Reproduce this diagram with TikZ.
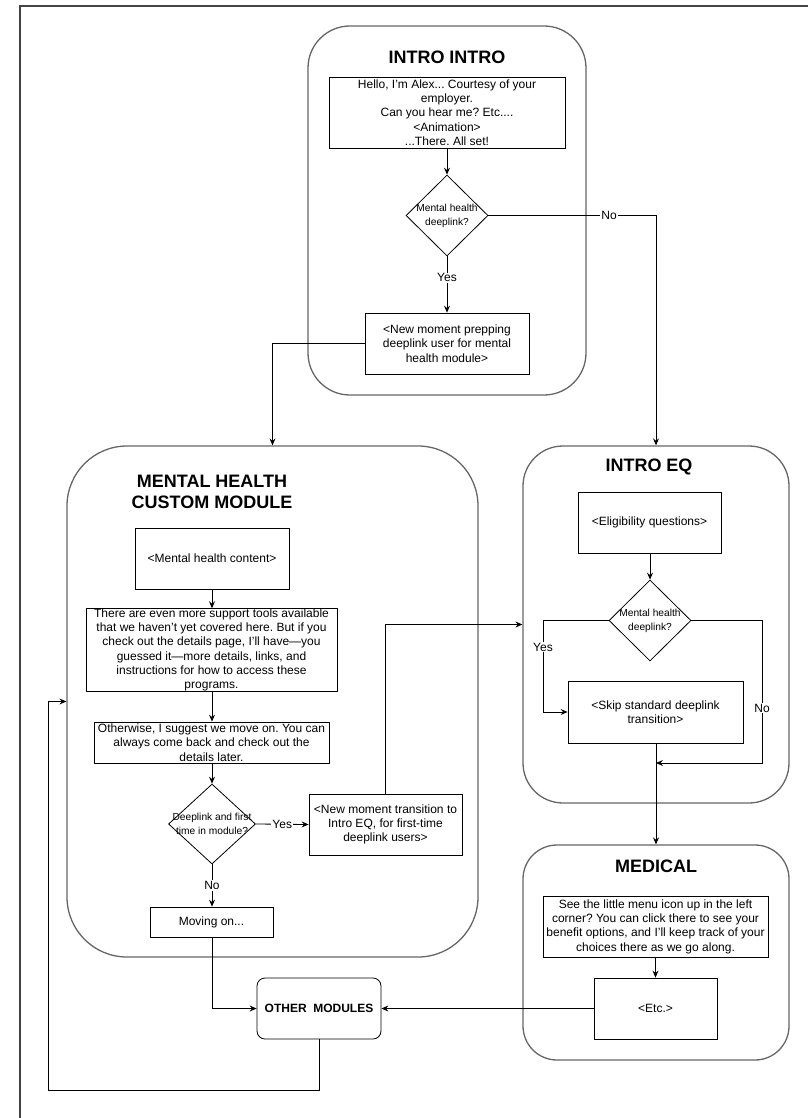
\documentclass[tikz,border=0pt]{standalone}
\usepackage{fontspec}
\setmainfont{Liberation Sans}
\usetikzlibrary{shapes.geometric,arrows.meta,calc}
\definecolor{framegray}{HTML}{444444}
\definecolor{contgray}{HTML}{666666}
\frenchspacing
\begin{document}
\begin{tikzpicture}[x=1pt,y=-1pt,
  txt/.style={font=\fontsize{12}{14.3}\selectfont, align=center},
  box/.style={draw=black, line width=0.8pt, rectangle, inner xsep=1pt, inner ysep=0pt, txt},
  cont/.style={draw=contgray, line width=1.3pt, rectangle, inner sep=0pt},
  ttl/.style={font=\fontsize{18}{20.5}\selectfont\bfseries, align=center},
  dia/.style={draw=black, line width=0.8pt, diamond, inner sep=0pt},
  dtxt/.style={font=\fontsize{10.2}{14}\selectfont, align=center, inner sep=0pt},
  arr/.style={line width=0.8pt, -{Stealth[length=7pt,width=6pt,inset=2.5pt]}},
  ln/.style={line width=0.8pt},
  lbl/.style={fill=white, inner sep=1pt, font=\fontsize{12}{14}\selectfont}
]
\useasboundingbox (0,0) rectangle (807,1118);
\draw[framegray, line width=2pt] (20,1119) -- (20,6) -- (808,6);

% containers
\node[cont, rounded corners=42pt, minimum width=278pt, minimum height=369pt] (intro) at (447,210.5) {};
\node[cont, rounded corners=60pt, minimum width=411pt, minimum height=511pt] (mh) at (272.5,701.5) {};
\node[cont, rounded corners=40pt, minimum width=266pt, minimum height=357pt] (eq) at (656,624.5) {};
\node[cont, rounded corners=34pt, minimum width=266pt, minimum height=215pt] (med) at (656,952.5) {};

% titles
\node[ttl] (tintro) at (447,57) {INTRO INTRO};
\node[ttl] (tmh) at (212,492) {MENTAL HEALTH\\CUSTOM MODULE};
\node[ttl] (teq) at (649,467) {INTRO EQ};
\node[ttl] (tmed) at (656,866) {MEDICAL};

% intro intro
\node[box, minimum width=236pt, minimum height=71pt] (b1) at (447,112.5)
  {Hello, I'm Alex... Courtesy of your\\employer.\\Can you hear me? Etc....\\<Animation>\\...There. All set!};
\node[dia, minimum width=82pt, minimum height=81pt] (d1) at (447,215.5) {};
\node[dtxt] (d1t) at (d1.center) {Mental health\\deeplink?};
\node[box, minimum width=164pt, minimum height=61pt] (b2) at (447,343.5)
  {<New moment prepping\\deeplink user for mental\\health module>};

% mental health module
\node[box, minimum width=154pt, minimum height=61pt] (bA) at (212,558.5) {<Mental health content>};
\node[box, minimum width=251pt, minimum height=82pt] (bB) at (211.5,650)
  {There are even more support tools available\\that we haven't yet covered here. But if you\\check out the details page, I'll have—you\\guessed it—more details, links, and\\instructions for how to access these\\programs.};
\node[box, minimum width=235pt, minimum height=41pt] (bC) at (211.5,742.5)
  {Otherwise, I suggest we move on. You can\\always come back and check out the\\details later.};
\node[dia, minimum width=87pt, minimum height=80pt] (d2) at (212,824) {};
\node[dtxt] (d2t) at (d2.center) {Deeplink and first\\time in module?};
\node[box, minimum width=153pt, minimum height=61pt] (bD) at (385.5,824.5)
  {<New moment transition to\\Intro EQ, for first-time\\deeplink users>};
\node[box, minimum width=123pt, minimum height=30pt] (bM) at (211.5,922) {Moving on...};

% other modules
\node[draw=black, line width=0.8pt, rounded corners=8pt, minimum width=124pt, minimum height=61pt, inner sep=0pt,
  font=\fontsize{12}{14}\selectfont\bfseries] (om) at (319,1008.5) {OTHER\ \ MODULES};

% intro eq
\node[box, minimum width=143pt, minimum height=61pt] (bE) at (649.5,522.5) {<Eligibility questions>};
\node[dia, minimum width=82pt, minimum height=81pt] (d3) at (650,620.5) {};
\node[dtxt] (d3t) at (d3.center) {Mental health\\deeplink?};
\node[box, minimum width=175pt, minimum height=62pt] (bF) at (655.5,712) {<Skip standard deeplink\\transition>};

% medical
\node[box, minimum width=225pt, minimum height=61pt] (bG) at (655.5,926.5)
  {See the little menu icon up in the left\\corner? You can click there to see your\\benefit options, and I'll keep track of your\\choices there as we go along.};
\node[box, minimum width=123pt, minimum height=61pt] (bH) at (655.5,1008.5) {<Etc.>};

% coordinates
\coordinate (loop) at (48,1090);
\coordinate (eqyes) at (543,712);
\coordinate (eqno) at (762,763);
\coordinate (merge) at (656,763);

% connectors
\draw[arr] (b1.south) -- (d1.north);
\draw[arr] (d1.south) -- node[lbl, pos=0.38] {Yes} (b2.north);
\draw[arr] (d1.east) -| node[lbl, pos=0.36] {No} (eq.north);
\draw[arr] (b2.west) -| (mh.north);

\draw[arr] (bA.south) -- (bA.south |- bB.north);
\draw[arr] (bB.south -| bA.south) -- (bA.south |- bC.north);
\draw[arr] (bC.south -| bA.south) -- (d2.north);
\draw[arr] (d2.east) -- node[lbl, pos=0.5] {Yes} (bD.west);
\draw[arr] (d2.south) -- node[lbl, pos=0.5] {No} (d2.south |- bM.north);
\draw[arr] (bD.north) |- (eq.west);
\draw[arr] (d2.south |- bM.south) |- (om.west);
\draw[arr] (bH.west) -- (om.east);
\draw[arr] (om.south) |- (loop) |- (mh.west);

\draw[arr] (bE.south -| d3.north) -- (d3.north);
\draw[arr] (d3.west) -| node[lbl, pos=0.645] {Yes} (eqyes) -- (bF.west);
\draw[arr] (d3.east) -| node[lbl, pos=0.807] {No} (eqno) -- (merge);
\draw[arr] (bF.south -| merge) -- (merge |- med.north);

\draw[arr] (bG.south -| bH.north) -- (bH.north);
\end{tikzpicture}
\end{document}
